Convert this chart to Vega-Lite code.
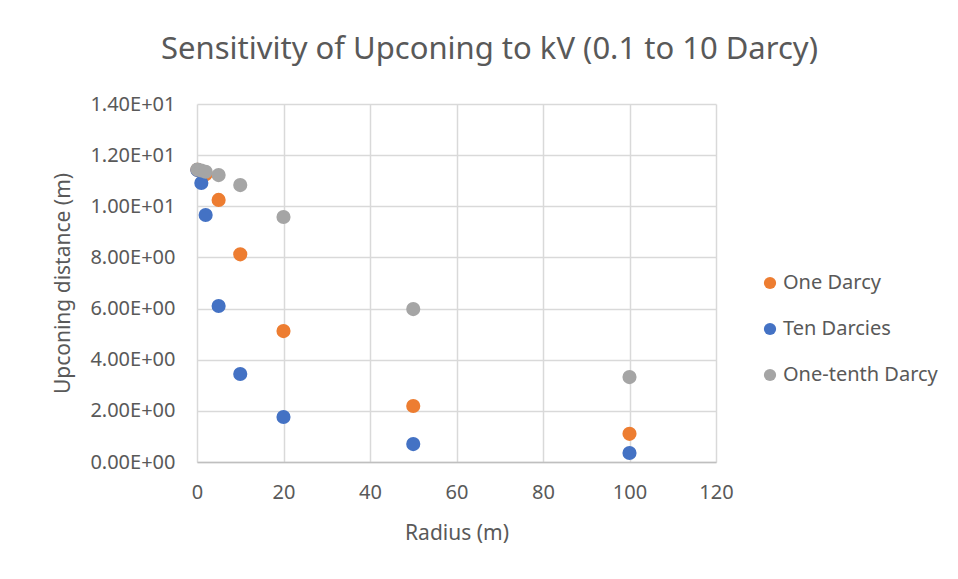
{
  "$schema": "https://vega.github.io/schema/vega-lite/v6.json",
  "width": 519,
  "height": 358,
  "autosize": "none",
  "padding": {"left": 197, "top": 104, "right": 242, "bottom": 117},
  "background": "white",
  "title": {
    "text": "Sensitivity of Upconing to kV (0.1 to 10 Darcy)",
    "font": "Noto Sans",
    "fontSize": 31,
    "fontWeight": "normal",
    "color": "#595959",
    "anchor": "middle",
    "dx": 33,
    "offset": 28
  },
  "data": {
    "values": [
      {"series": "One Darcy", "order": 1, "radius": 0.1, "upconing": 11.43},
      {"series": "One Darcy", "order": 1, "radius": 1, "upconing": 11.36},
      {"series": "One Darcy", "order": 1, "radius": 2, "upconing": 11.25},
      {"series": "One Darcy", "order": 1, "radius": 5, "upconing": 10.25},
      {"series": "One Darcy", "order": 1, "radius": 10, "upconing": 8.12},
      {"series": "One Darcy", "order": 1, "radius": 20, "upconing": 5.12},
      {"series": "One Darcy", "order": 1, "radius": 50, "upconing": 2.19},
      {"series": "One Darcy", "order": 1, "radius": 100, "upconing": 1.1},
      {"series": "Ten Darcies", "order": 2, "radius": 0.1, "upconing": 11.42},
      {"series": "Ten Darcies", "order": 2, "radius": 1, "upconing": 10.91},
      {"series": "Ten Darcies", "order": 2, "radius": 2, "upconing": 9.66},
      {"series": "Ten Darcies", "order": 2, "radius": 5, "upconing": 6.1},
      {"series": "Ten Darcies", "order": 2, "radius": 10, "upconing": 3.44},
      {"series": "Ten Darcies", "order": 2, "radius": 20, "upconing": 1.76},
      {"series": "Ten Darcies", "order": 2, "radius": 50, "upconing": 0.7},
      {"series": "Ten Darcies", "order": 2, "radius": 100, "upconing": 0.35},
      {"series": "One-tenth Darcy", "order": 3, "radius": 0.1, "upconing": 11.44},
      {"series": "One-tenth Darcy", "order": 3, "radius": 1, "upconing": 11.4},
      {"series": "One-tenth Darcy", "order": 3, "radius": 2, "upconing": 11.35},
      {"series": "One-tenth Darcy", "order": 3, "radius": 5, "upconing": 11.22},
      {"series": "One-tenth Darcy", "order": 3, "radius": 10, "upconing": 10.83},
      {"series": "One-tenth Darcy", "order": 3, "radius": 20, "upconing": 9.58},
      {"series": "One-tenth Darcy", "order": 3, "radius": 50, "upconing": 5.98},
      {"series": "One-tenth Darcy", "order": 3, "radius": 100, "upconing": 3.32}
    ]
  },
  "mark": {"type": "circle", "size": 200, "opacity": 1},
  "encoding": {
    "x": {
      "field": "radius",
      "type": "quantitative",
      "scale": {"domain": [0, 120], "nice": false, "zero": true},
      "axis": {
        "title": "Radius (m)",
        "values": [0, 20, 40, 60, 80, 100, 120],
        "ticks": false,
        "labelFlush": false,
        "labelPadding": 20,
        "titlePadding": 20,
        "domainColor": "#bfbfbf",
        "domainWidth": 1.5
      }
    },
    "y": {
      "field": "upconing",
      "type": "quantitative",
      "scale": {"domain": [0, 14], "nice": false},
      "axis": {
        "title": "Upconing distance (m)",
        "values": [0, 2, 4, 6, 8, 10, 12, 14],
        "ticks": false,
        "labelFlush": false,
        "labelPadding": 22,
        "titlePadding": 16,
        "domain": false,
        "labelExpr": "datum.value == 0 ? '0.00E+00' : format(datum.value / pow(10, floor(log(datum.value) / LN10 + 1e-9)), '.2f') + 'E+0' + floor(log(datum.value) / LN10 + 1e-9)"
      }
    },
    "color": {
      "field": "series",
      "type": "nominal",
      "scale": {
        "domain": ["One Darcy", "Ten Darcies", "One-tenth Darcy"],
        "range": ["#ED7D31", "#4472C4", "#A5A5A5"]
      },
      "legend": {
        "title": null,
        "orient": "none",
        "legendX": 563,
        "legendY": 169,
        "symbolType": "circle",
        "symbolSize": 150,
        "symbolOpacity": 1,
        "labelFontSize": 20,
        "labelFont": "Noto Sans",
        "labelColor": "#595959",
        "rowPadding": 26,
        "labelOffset": 3
      }
    },
    "order": {"field": "order", "type": "quantitative"}
  },
  "config": {
    "view": {"stroke": null},
    "axis": {
      "labelFont": "Noto Sans",
      "titleFont": "Noto Sans",
      "labelFontSize": 20,
      "titleFontSize": 21,
      "titleFontWeight": "normal",
      "labelColor": "#595959",
      "titleColor": "#595959",
      "gridColor": "#d9d9d9",
      "gridWidth": 1.5
    }
  }
}
